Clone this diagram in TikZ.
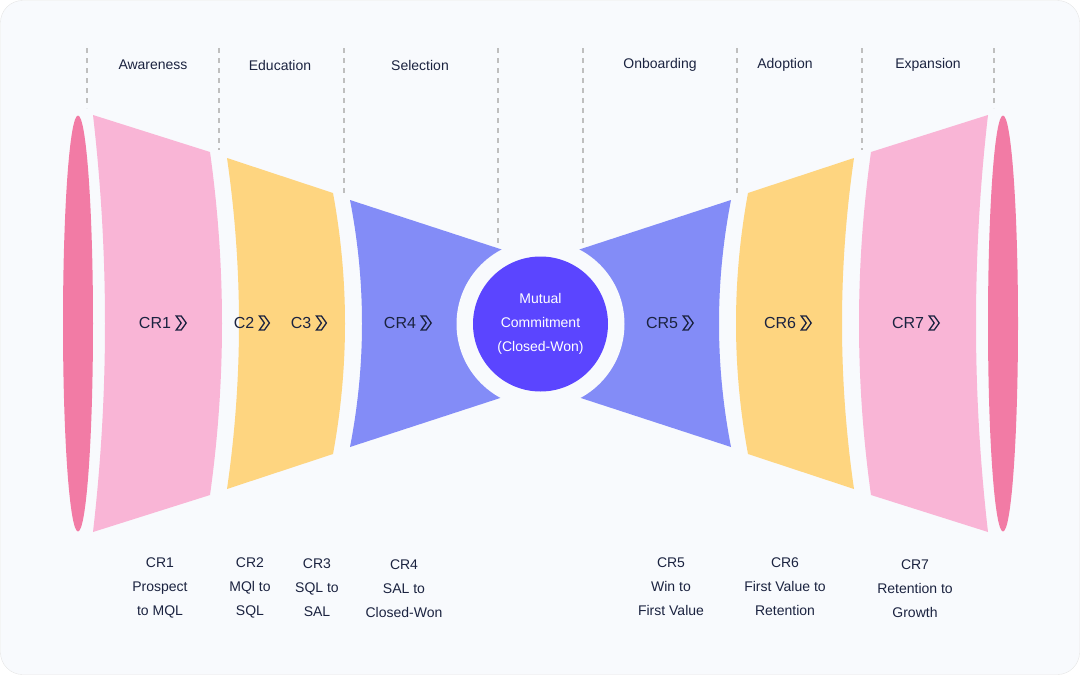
\documentclass[tikz,border=0pt]{standalone}
\usepackage{fontspec}
\setmainfont{Liberation Sans}
\usetikzlibrary{positioning}

\definecolor{bgc}{HTML}{F8FAFD}
\definecolor{rimc}{HTML}{F27BA5}
\definecolor{pinkc}{HTML}{F9B5D6}
\definecolor{yelc}{HTML}{FED580}
\definecolor{bluec}{HTML}{838CF7}
\definecolor{purc}{HTML}{5B45FF}
\definecolor{inkc}{HTML}{1B2340}

\tikzset{
  stage/.style={font=\fontsize{14}{16}\selectfont,text=inkc},
  cr/.style={font=\fontsize{16}{18}\selectfont,text=inkc,inner sep=1pt},
  note/.style={font=\fontsize{14}{24}\selectfont,text=inkc,align=center},
  guide/.style={draw=gray!50,line width=1.2pt,dash pattern=on 5pt off 5pt},
  chev/.pic={\draw[inkc,line width=1.3pt,line join=miter]
     (0,-7) -- (5,-7) -- (10,0) -- (5,7) -- (0,7) -- (5,0) -- cycle;}
}

\begin{document}
\begin{tikzpicture}[x=1pt,y=-1pt]
    \useasboundingbox (0,0) rectangle (1080,675);
    \fill[bgc,draw=gray!20,rounded corners=22pt] (0.5,0.5) rectangle (1079.5,674.5);
    % both halves, right one mirrored
    \foreach \side in {1,-1} {
      \begin{scope}[shift={(540.5-540.5*\side,0)},xscale=\side]
        \fill[rimc] (78,323.5) ellipse [x radius=15,y radius=208];
        \foreach \xa/\ya/\xb/\yb/\col in {93/115/210/152/pinkc,227/158/333/193/yelc,350/200/540/262/bluec} {
          \pgfmathsetmacro\ca{\xa+16}
          \pgfmathsetmacro\cb{\xb+16}
          \fill[\col] (\xa,\ya) -- (\xb,\yb)
            .. controls (\cb,{\yb+(647-2*\yb)/3}) and (\cb,{\yb+2*(647-2*\yb)/3}) .. (\xb,647-\yb)
            -- (\xa,647-\ya)
            .. controls (\ca,{\ya+2*(647-2*\ya)/3}) and (\ca,{\ya+(647-2*\ya)/3}) .. (\xa,\ya);
        }
        %Guide lines
        \foreach \gx/\gy in {87/108,219/150,344/193,498/243}
          \draw[guide] (\gx,48) -- (\gx,\gy);
      \end{scope}
    }
    \fill[bgc] (540.5,324) circle (84);
    \node[circle,fill=purc,minimum size=135pt,text=white,align=center,
      font=\fontsize{14}{24}\selectfont] (won) at (540.5,324) {Mutual\\Commitment\\(Closed-Won)};
    % stage titles
    \node[stage] (aw) at (153,65) {Awareness};
    \node[stage] (ed) at (280,65) {Education};
    \node[stage] (se) at (420,65) {Selection};
    \node[stage] (on) at (660,65) {Onboarding};
    \node[stage] (ad) at (785,65) {Adoption};
    \node[stage] (ex) at (928,65) {Expansion};
    % rates inside the funnel
    \foreach \n/\t/\x in {r1/CR1/155,r2/C2/244,r3/C3/301,r4/CR4/400,r5/CR5/662,r6/CR6/780,r7/CR7/908} {
      \node[cr] (\n) at (\x,323) {\t};
      \pic at ([xshift=4pt]\n.east) {chev};
    }
    % notes below
    \node[note] (n1) at (160,588) {CR1\\Prospect\\to MQL};
    \node[note] (n2) at (250,588) {CR2\\MQl to\\SQL};
    \node[note] (n3) at (317,588) {CR3\\SQL to\\SAL};
    \node[note] (n4) at (404,589) {CR4\\SAL to\\Closed-Won};
    \node[note] (n5) at (671,587) {CR5\\Win to\\First Value};
    \node[note] (n6) at (785,587) {CR6\\First Value to\\Retention};
    \node[note] (n7) at (915,589) {CR7\\Retention to\\Growth};
\end{tikzpicture}
\end{document}
